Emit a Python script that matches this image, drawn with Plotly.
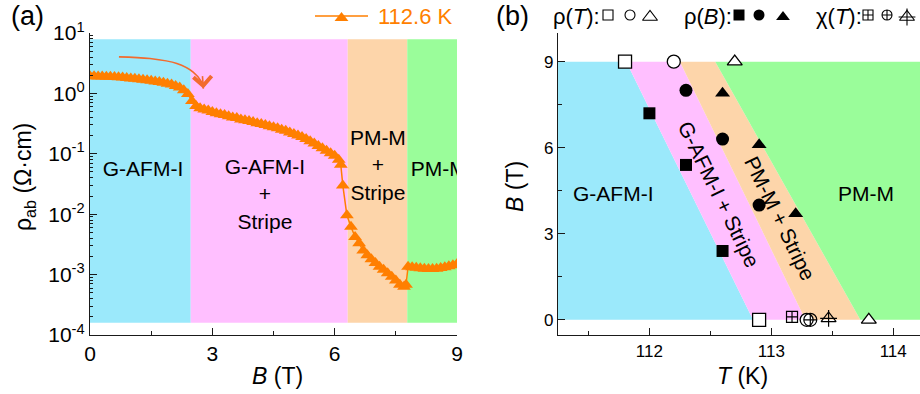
import math
import plotly.graph_objects as go

W, H = 920, 394

# ---------------- Panel (a): rho_ab vs B at 112.6 K ----------------
B_field = [0.0, 0.1, 0.2, 0.3, 0.4, 0.5, 0.6, 0.7, 0.8, 0.9,
           1.0, 1.1, 1.2, 1.3, 1.4, 1.5, 1.6, 1.7, 1.8, 1.9,
           2.0, 2.1, 2.2, 2.3, 2.4, 2.5, 2.6, 2.7, 2.8, 2.9,
           3.0, 3.1, 3.2, 3.3, 3.4, 3.5, 3.6, 3.7, 3.8, 3.9,
           4.0, 4.1, 4.2, 4.3, 4.4, 4.5, 4.6, 4.7, 4.8, 4.9,
           5.0, 5.1, 5.2, 5.3, 5.4, 5.5, 5.6, 5.7, 5.8, 5.9,
           6.0, 6.1, 6.15, 6.2, 6.3, 6.4, 6.5, 6.6, 6.7, 6.8, 6.9,
           7.0, 7.1, 7.2, 7.3, 7.4, 7.5, 7.6, 7.7, 7.75,
           7.8, 7.9, 8.0, 8.1, 8.2, 8.3, 8.4, 8.5, 8.6, 8.7, 8.8, 8.9, 9.0]
rho_ab = [1.92, 1.92, 1.91, 1.90, 1.89, 1.88, 1.87, 1.85, 1.83, 1.80,
          1.77, 1.74, 1.71, 1.68, 1.65, 1.62, 1.58, 1.54, 1.50, 1.45,
          1.40, 1.33, 1.25, 1.13, 0.98, 0.75, 0.62, 0.57, 0.54, 0.52,
          0.49, 0.47, 0.45, 0.44, 0.42, 0.40, 0.39, 0.37, 0.36, 0.35,
          0.335, 0.32, 0.31, 0.30, 0.285, 0.275, 0.265, 0.25, 0.24, 0.225,
          0.213, 0.20, 0.19, 0.175, 0.162, 0.148, 0.135, 0.123, 0.112, 0.102,
          0.093, 0.080, 0.066, 0.030, 0.0096, 0.0062, 0.0042, 0.0033, 0.0025, 0.0021, 0.0018,
          0.00155, 0.00135, 0.0012, 0.00105, 0.00092, 0.0008, 0.00068, 0.00063, 0.00068,
          0.00135, 0.00132, 0.0013, 0.00127, 0.00125, 0.00124, 0.00124, 0.00125, 0.00128,
          0.00132, 0.00137, 0.00143, 0.0015]
series_name = "112.6 K"

# phase regions along B at 112.6 K
phase_B_edges = [0.0, 2.47, 6.32, 7.78, 9.0]
phase_rho_span = [1.6e-4, 7.9]
phase_names_a = ["G-AFM-I", "G-AFM-I<br>+<br>Stripe", "PM-M<br>+<br>Stripe", "PM-M"]
phase_label_B = [1.30, 4.29, 7.06, 8.55]
phase_label_rho = [0.052, 0.020, 0.060, 0.052]

# guide arrow (B, rho) points
arrow_B = [0.71, 1.47, 2.13, 2.53, 2.74, 2.78]
arrow_rho = [4.03, 3.78, 3.13, 2.26, 1.54, 1.20]

# ---------------- Panel (b): phase diagram ----------------
T_range = [111.25, 114.22]
B_range = [-0.53, 10.0]
# phase boundaries: temperature at B = 9 T and B = 0 T
bound_T_at_9 = [111.81, 112.25, 112.54]
bound_T_at_0 = [112.85, 113.28, 113.73]
B_top, B_bot = 9.0, 0.0

rhoT_sq_T, rhoT_sq_B = [111.8, 112.9], [9.0, 0.0]
rhoT_ci_T, rhoT_ci_B = [112.2, 113.29], [9.0, 0.0]
rhoT_tr_T, rhoT_tr_B = [112.7, 113.8], [9.0, 0.0]
rhoB_sq_T, rhoB_sq_B = [112.0, 112.3, 112.6], [7.2, 5.4, 2.4]
rhoB_ci_T, rhoB_ci_B = [112.3, 112.6, 112.9], [8.0, 6.3, 4.0]
rhoB_tr_T, rhoB_tr_B = [112.6, 112.9, 113.2], [7.9, 6.1, 3.7]
chi_sq_T, chi_sq_B = [113.17], [0.1]
chi_ci_T, chi_ci_B = [113.32], [0.0]
chi_tr_T, chi_tr_B = [113.47], [0.05]

phase_names_b = ["G-AFM-I", "G-AFM-I + Stripe", "PM-M + Stripe", "PM-M"]
phase_label_T = [111.705, 112.57, 113.07, 113.78]
phase_label_Bb = [4.42, 4.36, 3.52, 4.42]
phase_label_angle = [0, 64, 64, 0]

# ---------------- styling ----------------
FONT = "Arial, Liberation Sans, sans-serif"
C_CYAN = "#9BE9FB"
C_PINK = "#FFBFFF"
C_ORNG = "#FDD5AA"
C_GREEN = "#9AFD9A"
C_DATA = "#FF7F00"
C_ARROW = "#F26B2E"
phase_colors = [C_CYAN, C_PINK, C_ORNG, C_GREEN]
AX = "#1a1a1a"

fig = go.Figure()

def px2paper_x(p):
    return p / W

def px2paper_y(p):
    return 1 - p / H

# panel (a) bands
for i, col in enumerate(phase_colors):
    x0, x1 = phase_B_edges[i], phase_B_edges[i + 1]
    y0, y1 = phase_rho_span
    fig.add_trace(go.Scatter(x=[x0, x1, x1, x0, x0], y=[y0, y0, y1, y1, y0],
                             mode="lines", fill="toself", fillcolor=col,
                             line=dict(width=0, color=col), hoverinfo="skip",
                             showlegend=False, xaxis="x", yaxis="y"))

# phase labels (a)
fig.add_trace(go.Scatter(x=phase_label_B, y=phase_label_rho, mode="text",
                         text=phase_names_a, textposition="middle center",
                         textfont=dict(family=FONT, size=21, color="black"),
                         cliponaxis=True, hoverinfo="skip", showlegend=False,
                         xaxis="x", yaxis="y"))

# data
fig.add_trace(go.Scatter(x=B_field, y=rho_ab, mode="lines+markers", name=series_name,
                         line=dict(color=C_DATA, width=1.5),
                         marker=dict(symbol="triangle-up", size=12, color=C_DATA,
                                     line=dict(width=0)),
                         showlegend=False, xaxis="x", yaxis="y"))

# guide arrow
fig.add_trace(go.Scatter(x=arrow_B, y=arrow_rho, mode="lines",
                         line=dict(color=C_ARROW, width=1.6, shape="spline"),
                         hoverinfo="skip", showlegend=False, xaxis="x", yaxis="y"))

# panel (b) bands
xl, xr = T_range[0], T_range[1] + 0.1
band_polys = [
    ([xl, bound_T_at_9[0], bound_T_at_0[0], xl], [B_top, B_top, B_bot, B_bot]),
    ([bound_T_at_9[0], bound_T_at_9[1], bound_T_at_0[1], bound_T_at_0[0]], [B_top, B_top, B_bot, B_bot]),
    ([bound_T_at_9[1], bound_T_at_9[2], bound_T_at_0[2], bound_T_at_0[1]], [B_top, B_top, B_bot, B_bot]),
    ([bound_T_at_9[2], xr, xr, bound_T_at_0[2]], [B_top, B_top, B_bot, B_bot]),
]
for (xs, ys), col in zip(band_polys, phase_colors):
    fig.add_trace(go.Scatter(x=xs + [xs[0]], y=ys + [ys[0]], mode="lines", fill="toself",
                             fillcolor=col, line=dict(width=0, color=col),
                             hoverinfo="skip", showlegend=False, xaxis="x2", yaxis="y2"))

def mk(xs, ys, symbol, size, filled, xa="x2", ya="y2", lw=1.3):
    return go.Scatter(x=xs, y=ys, mode="markers",
                      marker=dict(symbol=symbol, size=size,
                                  color="black" if filled else "white",
                                  line=dict(color="black", width=0 if filled else lw)),
                      hoverinfo="skip", showlegend=False, cliponaxis=False,
                      xaxis=xa, yaxis=ya)

fig.add_trace(mk(rhoT_sq_T, rhoT_sq_B, "square", 13, False))
fig.add_trace(mk(rhoT_ci_T, rhoT_ci_B, "circle", 13, False))
fig.add_trace(mk(rhoT_tr_T, rhoT_tr_B, "triangle-up", 13, False))
fig.add_trace(mk(rhoB_sq_T, rhoB_sq_B, "square", 12, True))
fig.add_trace(mk(rhoB_ci_T, rhoB_ci_B, "circle", 13, True))
fig.add_trace(mk(rhoB_tr_T, rhoB_tr_B, "triangle-up", 13, True))
fig.add_trace(go.Scatter(x=chi_sq_T, y=chi_sq_B, mode="markers",
                         marker=dict(symbol="square-cross-open", size=11, color="black",
                                     line=dict(width=1.2)),
                         hoverinfo="skip", showlegend=False, cliponaxis=False,
                         xaxis="x2", yaxis="y2"))
fig.add_trace(go.Scatter(x=chi_ci_T, y=chi_ci_B, mode="markers",
                         marker=dict(symbol="circle-cross-open", size=13, color="black",
                                     line=dict(width=1.2)),
                         hoverinfo="skip", showlegend=False, cliponaxis=False,
                         xaxis="x2", yaxis="y2"))
fig.add_trace(go.Scatter(x=chi_tr_T, y=chi_tr_B, mode="markers",
                         marker=dict(symbol="triangle-up-open", size=13, color="black",
                                     line=dict(width=1.2)),
                         hoverinfo="skip", showlegend=False, cliponaxis=False,
                         xaxis="x2", yaxis="y2"))
fig.add_trace(go.Scatter(x=chi_tr_T, y=chi_tr_B, mode="markers",
                         marker=dict(symbol="cross-thin-open", size=12, color="black",
                                     line=dict(width=1.2, color="black")),
                         hoverinfo="skip", showlegend=False, cliponaxis=False,
                         xaxis="x2", yaxis="y2"))

# ---------------- legend glyphs on a pixel overlay axis ----------------
leg_line_x = [315, 368]
fig.add_trace(go.Scatter(x=leg_line_x, y=[16, 16], mode="lines",
                         line=dict(color=C_DATA, width=1.5), hoverinfo="skip",
                         showlegend=False, xaxis="x3", yaxis="y3"))
fig.add_trace(go.Scatter(x=[sum(leg_line_x) / 2], y=[18], mode="markers",
                         marker=dict(symbol="triangle-up", size=12, color=C_DATA),
                         hoverinfo="skip", showlegend=False, xaxis="x3", yaxis="y3"))
leg_glyphs = [
    (608, 15, "square", 10, False), (630, 15, "circle", 10, False), (650, 17, "triangle-up", 13, False),
    (739, 15, "square", 11, True), (759, 15, "circle", 11, True), (783, 17, "triangle-up", 12, True),
    (868, 15, "square-cross-open", 10, None), (887, 15, "circle-cross-open", 10, None),
    (907, 17, "triangle-up-open", 13, None), (907, 17, "cross-thin-open", 12, None),
]
for gx, gy, sym, sz, filled in leg_glyphs:
    if filled is None:
        m = dict(symbol=sym, size=sz, color="black", line=dict(width=1.1, color="black"))
    else:
        m = dict(symbol=sym, size=sz, color="black" if filled else "white",
                 line=dict(color="black", width=0 if filled else 1.1))
    fig.add_trace(go.Scatter(x=[gx], y=[gy], mode="markers", marker=m, hoverinfo="skip",
                             showlegend=False, cliponaxis=False, xaxis="x3", yaxis="y3"))

# ---------------- annotations ----------------
ann = []
def pa(text, x, y, size, angle=0, color="black", xanchor="center"):
    ann.append(dict(text=text, x=px2paper_x(x), y=px2paper_y(y), xref="paper", yref="paper",
                    showarrow=False, xanchor=xanchor, yanchor="middle", textangle=angle,
                    font=dict(family=FONT, size=size, color=color)))

pa("(a)", 27, 16, 27)
pa("(b)", 512, 16, 27)
pa(series_name, 376, 16, 22, color=C_DATA, xanchor="left")
pa("ρ(<i>T</i>):", 551, 16, 22, xanchor="left")
pa("ρ(<i>B</i>):", 682, 16, 22, xanchor="left")
pa("χ(<i>T</i>):", 814, 16, 22, xanchor="left")
pa("<i>B</i> (T)", 277, 376, 23)
pa("<i>T</i> (K)", 742, 376, 23)
pa("ρ<sub>ab</sub> (Ω·cm)", 24, 177, 23, angle=-90)
pa("<i>B</i> (T)", 515, 187, 23, angle=-90)

for name, t, b, ang in zip(phase_names_b, phase_label_T, phase_label_Bb, phase_label_angle):
    ann.append(dict(text=name, x=t, y=b, xref="x2", yref="y2", showarrow=False,
                    textangle=ang, xanchor="center", yanchor="middle",
                    font=dict(family=FONT, size=21, color="black")))

# arrow head at the end of guide arrow (log axis -> log value)
ann.append(dict(x=arrow_B[-1], y=math.log10(arrow_rho[-1]), xref="x", yref="y",
                ax=-1, ay=-14, axref="pixel", ayref="pixel", text="", showarrow=True,
                arrowhead=4, arrowsize=2.2, arrowwidth=1.6, arrowcolor=C_ARROW))

axis_common = dict(showline=True, linecolor=AX, linewidth=1.3, ticks="inside",
                   tickcolor=AX, tickwidth=1.3, ticklen=7, showgrid=False, zeroline=False,
                   mirror=False, automargin=False)

ydom = [px2paper_y(335), px2paper_y(33)]
rho_ticks = [1e-4, 1e-3, 1e-2, 1e-1, 1e0, 1e1]
rho_ticktext = ["10<sup>-4</sup>", "10<sup>-3</sup>", "10<sup>-2</sup>",
                "10<sup>-1</sup>", "10<sup>0</sup>", "10<sup>1</sup>"]
rho_minor = [k * 10 ** e for e in range(-4, 1) for k in range(2, 10)]

fig.update_layout(
    template="none",
    width=W, height=H, margin=dict(l=0, r=0, t=0, b=0, autoexpand=False),
    paper_bgcolor="white", plot_bgcolor="rgba(0,0,0,0)",
    font=dict(family=FONT, color="black"),
    showlegend=False,
    xaxis=dict(domain=[px2paper_x(90), px2paper_x(457)], range=[0, 9],
               tickvals=[0, 3, 6, 9], tickfont=dict(size=21),
               minor=dict(ticks="inside", ticklen=4, tickcolor=AX, tickwidth=1.2,
                          tickvals=[1.5, 4.5, 7.5]),
               anchor="y", **axis_common),
    yaxis=dict(domain=ydom, type="log", range=[-4, 1], tickvals=rho_ticks,
               ticktext=rho_ticktext, tickfont=dict(size=21),
               minor=dict(ticks="inside", ticklen=3, tickcolor=AX, tickwidth=1,
                          tickvals=rho_minor),
               anchor="x", **axis_common),
    xaxis2=dict(domain=[px2paper_x(558), 1.0], range=T_range, tickvals=[112, 113, 114],
                tickfont=dict(size=17),
                minor=dict(ticks="inside", ticklen=4, tickcolor=AX, tickwidth=1.2,
                           tickvals=[111.5, 112.5, 113.5]),
                anchor="y2", **axis_common),
    yaxis2=dict(domain=ydom, range=B_range, tickvals=[0, 3, 6, 9],
                tickfont=dict(size=17),
                minor=dict(ticks="inside", ticklen=4, tickcolor=AX, tickwidth=1.2,
                           tickvals=[1.5, 4.5, 7.5]),
                anchor="x2", **axis_common),
    xaxis3=dict(domain=[0, 1], range=[0, W], visible=False, anchor="y3", automargin=False),
    yaxis3=dict(domain=[0, 1], range=[H, 0], visible=False, anchor="x3", automargin=False),
    annotations=ann,
)

fig.write_html("out.html")
